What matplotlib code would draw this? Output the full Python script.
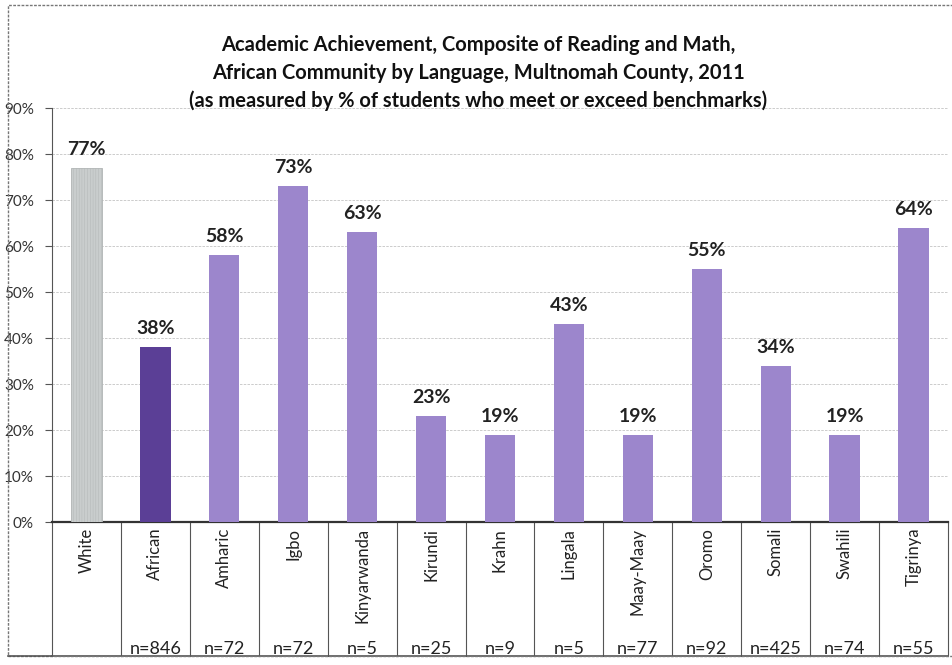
import matplotlib
matplotlib.use('Agg')
import matplotlib.pyplot as plt
from matplotlib.patches import Rectangle
import numpy as np

# data
groups = ['White', 'African', 'Amharic', 'Igbo', 'Kinyarwanda', 'Kirundi',
          'Krahn', 'Lingala', 'Maay-Maay', 'Oromo', 'Somali', 'Swahili',
          'Tigrinya']
pct = [77, 38, 58, 73, 63, 23, 19, 43, 19, 55, 34, 19, 64]
n_counts = ['', 'n=846', 'n=72', 'n=72', 'n=5', 'n=25', 'n=9', 'n=5',
            'n=77', 'n=92', 'n=425', 'n=74', 'n=55']
title_lines = ['Academic Achievement, Composite of Reading and Math,',
               'African Community by Language, Multnomah County, 2011',
               '(as measured by % of students who meet or exceed benchmarks)']

plt.rcParams['font.family'] = ['Lato', 'DejaVu Sans']
plt.rcParams['hatch.linewidth'] = 0.3

W, H = 953, 665
fig = plt.figure(figsize=(W / 100., H / 100.), dpi=100)
ax = fig.add_axes([52. / W, 1 - 522. / H, (948. - 52.) / W, (522. - 108.) / H])

colors = ['#c9cdcd', '#5b3f96'] + ['#9c86cc'] * (len(groups) - 2)
ind = np.arange(len(groups))
vals = np.array(pct) / 100.
bars = ax.bar(ind, vals, 0.44, color=colors, zorder=3)
bars[0].set_edgecolor('#b0b4b4')
bars[0].set_hatch('||||||')
bars[0].set_linewidth(0.6)

for rect, p in zip(bars, pct):
    ax.annotate('%d%%' % p, (rect.get_x() + rect.get_width() / 2., rect.get_height()),
                xytext=(0, 7), textcoords='offset points', ha='center',
                va='bottom', fontsize=14, fontweight='bold', color='#222222')

ax.set_xlim(-0.5, len(groups) - 0.5)
ax.set_ylim(0, 0.9)
ax.set_yticks(np.arange(0, 0.91, 0.1))
ax.set_yticklabels(['%d%%' % (v * 10) for v in range(10)], fontsize=11,
                   color='#333333')
ax.tick_params(axis='y', direction='out', length=5, width=0.8, pad=8,
               color='#555555')
ax.set_xticks([])
ax.grid(axis='y', color='#c4c4c4', linestyle=(0, (3, 1.5)), linewidth=0.6,
        zorder=0)
for s in ['top', 'right']:
    ax.spines[s].set_visible(False)
ax.spines['left'].set_color('#555555')
ax.spines['bottom'].set_color('#333333')
ax.spines['bottom'].set_linewidth(1.6)

# table under the bars: column lines, names and counts
trans = ax.get_xaxis_transform()
tbl_bottom = -(656. - 522.) / (522. - 108.)
for b in np.arange(len(groups) + 1) - 0.5:
    ax.plot([b, b], [0, tbl_bottom], transform=trans, color='#555555',
            linewidth=0.8, clip_on=False)
ax.plot([-0.5, len(groups) - 0.5], [tbl_bottom, tbl_bottom], transform=trans,
        color='#555555', linewidth=1.2, clip_on=False)
for i, (g, n) in enumerate(zip(groups, n_counts)):
    ax.text(i, -0.014, g, transform=trans, rotation=90, ha='center', va='top',
            fontsize=12, color='#222222')
    ax.text(i, -(649. - 522.) / 414., n, transform=trans, ha='center',
            va='center', fontsize=13, color='#222222')

# outer chart border
fig.patches.append(Rectangle((8. / W, 1 - 656. / H), (W + 5.) / W, (651.) / H,
                             transform=fig.transFigure, fill=False,
                             edgecolor='#777777', linewidth=1.0,
                             linestyle=(0, (2, 1))))
fig.add_artist(plt.Line2D([8. / W, 52. / W], [1 - 656. / H, 1 - 656. / H],
                          transform=fig.transFigure, color='#555555',
                          linewidth=1.2))

for k, line in enumerate(title_lines):
    fig.text(478. / W, 1 - (45. + 28. * k) / H, line, ha='center',
             va='center', fontsize=14.5, fontweight='bold', color='#111111')

fig.savefig('out.png', dpi=100)
